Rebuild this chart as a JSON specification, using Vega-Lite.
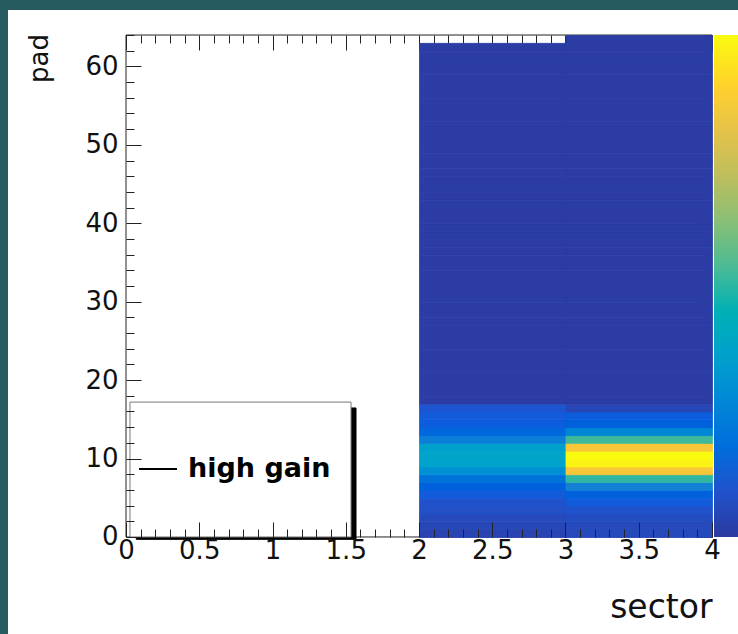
{
  "$schema": "https://vega.github.io/schema/vega-lite/v6.json",
  "width": 730,
  "height": 624,
  "autosize": {"type": "none"},
  "padding": {"left": 8, "top": 10, "right": 0, "bottom": 0},
  "background": "#265b5f",
  "config": {
    "view": {"fill": "white", "stroke": null},
    "font": "DejaVu Sans",
    "axis": {"domain": false, "grid": false, "tickColor": "#222", "labelColor": "#111", "titleColor": "#111", "labelFont": "DejaVu Sans", "titleFont": "DejaVu Sans"}
  },
  "datasets": {
    "hist": [
      {"sector": 2, "pad": 0, "adc": 22}, {"sector": 2, "pad": 1, "adc": 28}, {"sector": 2, "pad": 2, "adc": 33}, {"sector": 2, "pad": 3, "adc": 45},
      {"sector": 2, "pad": 4, "adc": 50}, {"sector": 2, "pad": 5, "adc": 67}, {"sector": 2, "pad": 6, "adc": 78}, {"sector": 2, "pad": 7, "adc": 111},
      {"sector": 2, "pad": 8, "adc": 167}, {"sector": 2, "pad": 9, "adc": 206}, {"sector": 2, "pad": 10, "adc": 212}, {"sector": 2, "pad": 11, "adc": 200},
      {"sector": 2, "pad": 12, "adc": 134}, {"sector": 2, "pad": 13, "adc": 89}, {"sector": 2, "pad": 14, "adc": 72}, {"sector": 2, "pad": 15, "adc": 67},
      {"sector": 2, "pad": 16, "adc": 56}, {"sector": 2, "pad": 17, "adc": 6}, {"sector": 2, "pad": 18, "adc": 6}, {"sector": 2, "pad": 19, "adc": 6},
      {"sector": 2, "pad": 20, "adc": 6}, {"sector": 2, "pad": 21, "adc": 6}, {"sector": 2, "pad": 22, "adc": 6}, {"sector": 2, "pad": 23, "adc": 6},
      {"sector": 2, "pad": 24, "adc": 6}, {"sector": 2, "pad": 25, "adc": 6}, {"sector": 2, "pad": 26, "adc": 6}, {"sector": 2, "pad": 27, "adc": 6},
      {"sector": 2, "pad": 28, "adc": 6}, {"sector": 2, "pad": 29, "adc": 6}, {"sector": 2, "pad": 30, "adc": 6}, {"sector": 2, "pad": 31, "adc": 6},
      {"sector": 2, "pad": 32, "adc": 6}, {"sector": 2, "pad": 33, "adc": 6}, {"sector": 2, "pad": 34, "adc": 6}, {"sector": 2, "pad": 35, "adc": 6},
      {"sector": 2, "pad": 36, "adc": 6}, {"sector": 2, "pad": 37, "adc": 6}, {"sector": 2, "pad": 38, "adc": 6}, {"sector": 2, "pad": 39, "adc": 6},
      {"sector": 2, "pad": 40, "adc": 6}, {"sector": 2, "pad": 41, "adc": 6}, {"sector": 2, "pad": 42, "adc": 6}, {"sector": 2, "pad": 43, "adc": 6},
      {"sector": 2, "pad": 44, "adc": 6}, {"sector": 2, "pad": 45, "adc": 6}, {"sector": 2, "pad": 46, "adc": 6}, {"sector": 2, "pad": 47, "adc": 6},
      {"sector": 2, "pad": 48, "adc": 6}, {"sector": 2, "pad": 49, "adc": 6}, {"sector": 2, "pad": 50, "adc": 6}, {"sector": 2, "pad": 51, "adc": 6},
      {"sector": 2, "pad": 52, "adc": 6}, {"sector": 2, "pad": 53, "adc": 6}, {"sector": 2, "pad": 54, "adc": 6}, {"sector": 2, "pad": 55, "adc": 6},
      {"sector": 2, "pad": 56, "adc": 6}, {"sector": 2, "pad": 57, "adc": 6}, {"sector": 2, "pad": 58, "adc": 6}, {"sector": 2, "pad": 59, "adc": 6},
      {"sector": 2, "pad": 60, "adc": 6}, {"sector": 2, "pad": 61, "adc": 6}, {"sector": 2, "pad": 62, "adc": 6},
      {"sector": 3, "pad": 0, "adc": 33}, {"sector": 3, "pad": 1, "adc": 33}, {"sector": 3, "pad": 2, "adc": 39}, {"sector": 3, "pad": 3, "adc": 50},
      {"sector": 3, "pad": 4, "adc": 67}, {"sector": 3, "pad": 5, "adc": 78}, {"sector": 3, "pad": 6, "adc": 139}, {"sector": 3, "pad": 7, "adc": 279},
      {"sector": 3, "pad": 8, "adc": 479}, {"sector": 3, "pad": 9, "adc": 546}, {"sector": 3, "pad": 10, "adc": 557}, {"sector": 3, "pad": 11, "adc": 479},
      {"sector": 3, "pad": 12, "adc": 290}, {"sector": 3, "pad": 13, "adc": 150}, {"sector": 3, "pad": 14, "adc": 78}, {"sector": 3, "pad": 15, "adc": 72},
      {"sector": 3, "pad": 16, "adc": 28}, {"sector": 3, "pad": 17, "adc": 6}, {"sector": 3, "pad": 18, "adc": 6}, {"sector": 3, "pad": 19, "adc": 6},
      {"sector": 3, "pad": 20, "adc": 6}, {"sector": 3, "pad": 21, "adc": 6}, {"sector": 3, "pad": 22, "adc": 6}, {"sector": 3, "pad": 23, "adc": 6},
      {"sector": 3, "pad": 24, "adc": 6}, {"sector": 3, "pad": 25, "adc": 6}, {"sector": 3, "pad": 26, "adc": 6}, {"sector": 3, "pad": 27, "adc": 6},
      {"sector": 3, "pad": 28, "adc": 6}, {"sector": 3, "pad": 29, "adc": 6}, {"sector": 3, "pad": 30, "adc": 6}, {"sector": 3, "pad": 31, "adc": 6},
      {"sector": 3, "pad": 32, "adc": 6}, {"sector": 3, "pad": 33, "adc": 6}, {"sector": 3, "pad": 34, "adc": 6}, {"sector": 3, "pad": 35, "adc": 6},
      {"sector": 3, "pad": 36, "adc": 6}, {"sector": 3, "pad": 37, "adc": 6}, {"sector": 3, "pad": 38, "adc": 6}, {"sector": 3, "pad": 39, "adc": 6},
      {"sector": 3, "pad": 40, "adc": 6}, {"sector": 3, "pad": 41, "adc": 6}, {"sector": 3, "pad": 42, "adc": 6}, {"sector": 3, "pad": 43, "adc": 6},
      {"sector": 3, "pad": 44, "adc": 6}, {"sector": 3, "pad": 45, "adc": 6}, {"sector": 3, "pad": 46, "adc": 6}, {"sector": 3, "pad": 47, "adc": 6},
      {"sector": 3, "pad": 48, "adc": 6}, {"sector": 3, "pad": 49, "adc": 6}, {"sector": 3, "pad": 50, "adc": 6}, {"sector": 3, "pad": 51, "adc": 6},
      {"sector": 3, "pad": 52, "adc": 6}, {"sector": 3, "pad": 53, "adc": 6}, {"sector": 3, "pad": 54, "adc": 6}, {"sector": 3, "pad": 55, "adc": 6},
      {"sector": 3, "pad": 56, "adc": 6}, {"sector": 3, "pad": 57, "adc": 6}, {"sector": 3, "pad": 58, "adc": 6}, {"sector": 3, "pad": 59, "adc": 6},
      {"sector": 3, "pad": 60, "adc": 6}, {"sector": 3, "pad": 61, "adc": 6}, {"sector": 3, "pad": 62, "adc": 6}, {"sector": 3, "pad": 63, "adc": 6}
    ]
  },
  "layer": [
    {
      "data": {"values": [{}]},
      "mark": {"type": "rule", "color": "#222", "strokeWidth": 1},
      "encoding": {
        "x": {"datum": 0, "type": "quantitative", "scale": {"domain": [-0.8055, 4.1775], "nice": false, "zero": false}, "axis": null},
        "y": {"datum": 0, "type": "quantitative", "scale": {"domain": [-12.37, 67.19], "nice": false, "zero": false},
          "axis": {"orient": "right", "offset": -26, "title": null, "labels": false,
            "values": [0,2,4,6,8,10,12,14,16,18,20,22,24,26,28,30,32,34,36,38,40,42,44,46,48,50,52,54,56,58,60,62,64],
            "tickSize": {"condition": {"test": "datum.value % 10 == 0", "value": -15}, "value": -8}}},
        "y2": {"datum": 64}
      }
    },
    {
      "data": {"values": [{}]},
      "mark": {"type": "rule", "color": "#222", "strokeWidth": 1},
      "encoding": {
        "x": {"datum": 0, "type": "quantitative", "scale": {"domain": [-0.8055, 4.1775], "nice": false, "zero": false},
          "axis": {"orient": "top", "offset": -25, "title": null, "labels": false,
            "values": [0,0.1,0.2,0.3,0.4,0.5,0.6,0.7,0.8,0.9,1,1.1,1.2,1.3,1.4,1.5,1.6,1.7,1.8,1.9,2,2.1,2.2,2.3,2.4,2.5,2.6,2.7,2.8,2.9,3,3.1,3.2,3.3,3.4,3.5,3.6,3.7,3.8,3.9,4],
            "tickSize": {"condition": {"test": "abs(datum.value*2-round(datum.value*2))<0.001", "value": -15}, "value": -8}}},
        "x2": {"datum": 4},
        "y": {"datum": 64, "type": "quantitative", "scale": {"domain": [-12.37, 67.19], "nice": false, "zero": false}, "axis": null}
      }
    },
    {
      "data": {"values": [{}]},
      "mark": {"type": "rule", "color": "#222", "strokeWidth": 1},
      "encoding": {
        "x": {"datum": 0, "type": "quantitative", "scale": {"domain": [-0.8055, 4.1775], "nice": false, "zero": false}, "axis": null},
        "x2": {"datum": 4},
        "y": {"datum": 0, "type": "quantitative", "scale": {"domain": [-12.37, 67.19], "nice": false, "zero": false}, "axis": null}
      }
    },
    {
      "data": {"name": "hist"},
      "mark": {"type": "rect", "strokeWidth": 0.8},
      "encoding": {
        "x": {"field": "sector", "type": "quantitative", "bin": {"binned": true, "step": 1},
          "scale": {"domain": [-0.8055, 4.1775], "nice": false, "zero": false},
          "axis": {"orient": "bottom", "offset": -97, "title": "sector",
            "values": [0,0.1,0.2,0.3,0.4,0.5,0.6,0.7,0.8,0.9,1,1.1,1.2,1.3,1.4,1.5,1.6,1.7,1.8,1.9,2,2.1,2.2,2.3,2.4,2.5,2.6,2.7,2.8,2.9,3,3.1,3.2,3.3,3.4,3.5,3.6,3.7,3.8,3.9,4],
            "format": "~g",
            "labelExpr": "abs(datum.value*2-round(datum.value*2))<0.001 ? datum.label : ''",
            "tickSize": {"condition": {"test": "abs(datum.value*2-round(datum.value*2))<0.001", "value": -15}, "value": -8},
            "labelPadding": 15, "labelFlush": false, "labelOverlap": false, "labelBound": false, "labelFontSize": 26,
            "titleX": 704, "titleY": 70, "titleAlign": "right", "titleBaseline": "middle", "titleFontSize": 33, "titleFontWeight": "normal"}},
        "y": {"field": "pad", "type": "quantitative", "bin": {"binned": true, "step": 1},
          "scale": {"domain": [-12.37, 67.19], "nice": false, "zero": false},
          "axis": {"orient": "left", "offset": -118, "title": "pad",
            "values": [0,2,4,6,8,10,12,14,16,18,20,22,24,26,28,30,32,34,36,38,40,42,44,46,48,50,52,54,56,58,60,62,64],
            "labelExpr": "datum.value % 10 == 0 ? datum.label : ''",
            "tickSize": {"condition": {"test": "datum.value % 10 == 0", "value": -15}, "value": -8},
            "labelPadding": 23, "labelOverlap": false, "labelBound": false, "labelFlush": false, "labelFontSize": 26,
            "titleX": -87, "titleY": 48, "titleAngle": 270, "titleAlign": "center", "titleBaseline": "middle", "titleFontSize": 26, "titleFontWeight": "normal"}},
        "fill": {"field": "adc", "type": "quantitative",
          "scale": {"domain": [0, 557], "range": ["#2b3a9f", "#0f5cdd", "#1481d6", "#06a4ca", "#2eb7a4", "#87bf77", "#d1bb59", "#fec832", "#f9fb0e"]},
          "legend": {"orient": "none", "legendX": 706, "legendY": 25, "direction": "vertical", "gradientLength": 502, "gradientThickness": 30,
            "gradientStrokeWidth": 0, "title": null, "padding": 0, "labelExpr": "''", "labelFontSize": 1}},
        "stroke": {"field": "adc", "type": "quantitative",
          "scale": {"domain": [0, 557], "range": ["#2b3a9f", "#0f5cdd", "#1481d6", "#06a4ca", "#2eb7a4", "#87bf77", "#d1bb59", "#fec832", "#f9fb0e"]},
          "legend": null}
      }
    },
    {
      "data": {"values": [{}]},
      "mark": {"type": "rect", "fill": "black"},
      "encoding": {
        "x": {"datum": 0.07, "type": "quantitative", "scale": {"domain": [-0.8055, 4.1775], "nice": false, "zero": false}, "axis": null},
        "x2": {"datum": 1.57},
        "y": {"datum": -0.3, "type": "quantitative", "scale": {"domain": [-12.37, 67.19], "nice": false, "zero": false}, "axis": null},
        "y2": {"datum": 16.45},
        "stroke": {"datum": "high gain", "type": "nominal", "scale": {"range": ["black"]},
          "legend": {"orient": "none", "legendX": 130, "legendY": 439, "title": null, "padding": 0,
            "symbolType": "stroke", "symbolSize": 1444, "symbolStrokeWidth": 2, "symbolStrokeColor": "black",
            "labelFontSize": 27, "labelFontWeight": "bold", "labelFont": "DejaVu Sans", "labelColor": "black", "labelOffset": 10}}
      }
    },
    {
      "data": {"values": [{}]},
      "mark": {"type": "rect", "fill": "white", "stroke": "#777", "strokeWidth": 1},
      "encoding": {
        "x": {"datum": 0.027, "type": "quantitative", "scale": {"domain": [-0.8055, 4.1775], "nice": false, "zero": false}, "axis": null},
        "x2": {"datum": 1.536},
        "y": {"datum": 0, "type": "quantitative", "scale": {"domain": [-12.37, 67.19], "nice": false, "zero": false}, "axis": null},
        "y2": {"datum": 17.2}
      }
    }
  ],
  "resolve": {"axis": {"x": "independent", "y": "independent"}, "scale": {"stroke": "independent"}}
}
